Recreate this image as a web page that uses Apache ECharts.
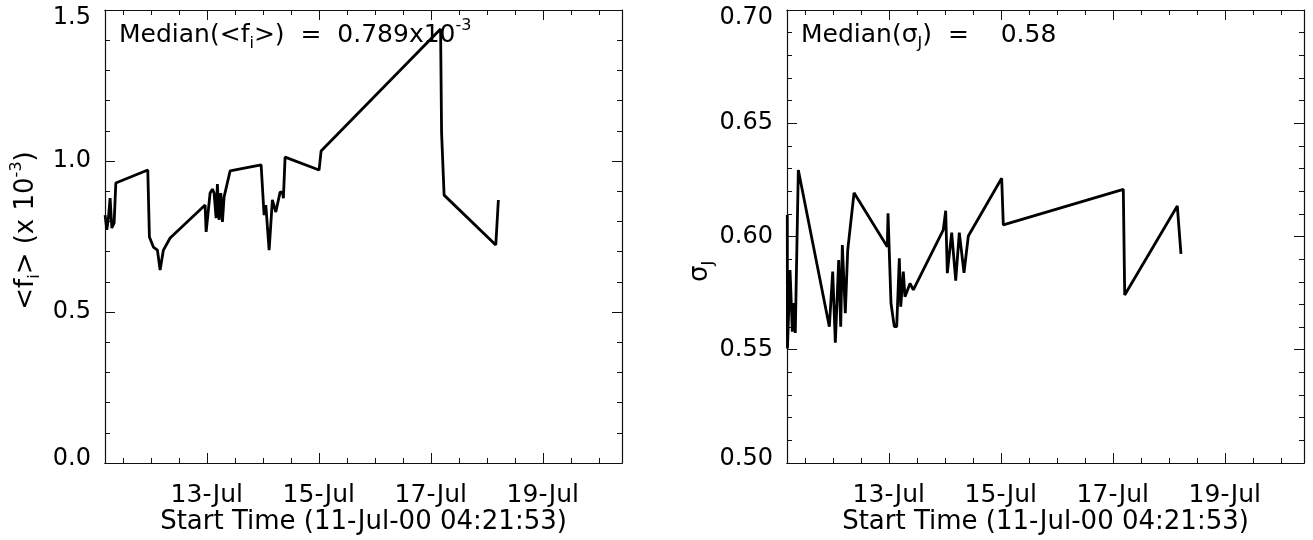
<!DOCTYPE html>
<html>
<head>
<meta charset="utf-8">
<script src="https://cdn.jsdelivr.net/npm/echarts@6/dist/echarts.min.js"></script>
<style>
html,body{margin:0;padding:0;background:#fff;}
#chart{width:1313px;height:540px;}
</style>
</head>
<body>
<div id="chart"></div>
<script>
// ---- data (days since 11-Jul-00 00:00) ----
const leftTimes = [0.184,0.214,0.243,0.273,0.304,0.345,0.375,0.946,0.975,1.046,1.118,1.166,1.225,1.345,1.970,1.988,2.059,2.100,2.130,2.166,2.189,2.220,2.250,2.279,2.309,2.416,2.970,3.023,3.054,3.113,3.171,3.232,3.309,3.350,3.368,3.398,4.005,4.041,6.175,6.193,6.238,7.161,7.207];
const leftValues = [0.821,0.772,0.811,0.877,0.778,0.795,0.927,0.970,0.748,0.715,0.705,0.639,0.705,0.745,0.854,0.765,0.894,0.907,0.894,0.811,0.924,0.805,0.894,0.798,0.881,0.967,0.987,0.821,0.854,0.705,0.871,0.831,0.897,0.897,0.877,1.013,0.970,1.033,1.437,1.093,0.887,0.722,0.871];
const rightTimes = [0.187,0.190,0.236,0.277,0.295,0.330,0.384,0.938,0.998,1.045,1.105,1.141,1.170,1.223,1.266,1.379,1.973,1.986,2.039,2.098,2.141,2.188,2.213,2.259,2.289,2.379,2.438,2.973,3.016,3.045,3.123,3.195,3.259,3.343,3.420,4.016,4.045,6.188,6.213,7.152,7.218];
const rightValues = [0.6095,0.5506,0.5852,0.558,0.5706,0.5574,0.6294,0.5602,0.5845,0.5531,0.5896,0.5602,0.5962,0.5661,0.5940,0.6193,0.5955,0.6102,0.5705,0.5602,0.5602,0.5904,0.5690,0.5845,0.5734,0.5793,0.5764,0.6029,0.6114,0.5838,0.6017,0.5805,0.6017,0.5840,0.6002,0.6257,0.6051,0.6208,0.5742,0.6135,0.5923];
const tickDays = [2,4,6,8];
const tickLabels = ['13-Jul','15-Jul','17-Jul','19-Jul'];
const minorDays = [0.5,1,1.5,2.5,3,3.5,4.5,5,5.5,6.5,7,7.5,8.5,9];
const xTitle = 'Start Time (11-Jul-00 04:21:53)';
const xMin = 15713/86400;   // 11-Jul-00 04:21:53
const xMax = 9.415;

const FONT = 'DejaVu Sans';
const FS = 24;
function rich(fs){
  return {
    a:{fontFamily:FONT,fontSize:fs,fontWeight:'normal',color:'#000',lineHeight:34},
    sub:{fontFamily:FONT,fontSize:16,fontWeight:'normal',color:'#000',verticalAlign:'bottom',lineHeight:16},
    sup:{fontFamily:FONT,fontSize:16,fontWeight:'normal',color:'#000',verticalAlign:'top',lineHeight:16}
  };
}
const lineCol = '#111';

function xAxes(grid){
  const base = {type:'value',gridIndex:grid,min:xMin,max:xMax,splitLine:{show:false},
    axisLine:{show:true,lineStyle:{color:lineCol,width:1.2}}};
  return [
    Object.assign({},base,{position:'bottom',
      axisTick:{show:true,inside:true,length:10,customValues:tickDays,lineStyle:{color:lineCol}},
      axisLabel:{show:true,customValues:tickDays,margin:20,fontFamily:FONT,fontSize:25,color:'#000',
        formatter:v=>{const i=tickDays.findIndex(d=>Math.abs(d-v)<1e-6);return i>=0?tickLabels[i]:'';}},
      name:xTitle,nameLocation:'middle',nameGap:46,nameMoveOverlap:false,
      nameTextStyle:{fontFamily:FONT,fontSize:26,color:'#000'}}),
    Object.assign({},base,{position:'bottom',
      axisTick:{show:true,inside:true,length:5,customValues:minorDays,lineStyle:{color:lineCol}},
      axisLabel:{show:false}}),
    Object.assign({},base,{position:'top',
      axisTick:{show:true,inside:true,length:10,customValues:tickDays,lineStyle:{color:lineCol}},
      axisLabel:{show:false}}),
    Object.assign({},base,{position:'top',
      axisTick:{show:true,inside:true,length:5,customValues:minorDays,lineStyle:{color:lineCol}},
      axisLabel:{show:false}})
  ];
}
function yAxes(grid,min,max,interval,digits,name,gap,namePad){
  const base = {type:'value',gridIndex:grid,min:min,max:max,interval:interval,splitLine:{show:false},
    axisLine:{show:true,lineStyle:{color:lineCol,width:1.2}},
    axisTick:{show:true,inside:true,length:10,lineStyle:{color:lineCol}},
    minorTick:{show:true,splitNumber:5,length:5,lineStyle:{color:lineCol}}};
  const lab = {fontFamily:FONT,fontSize:FS,color:'#000'};
  return [
    Object.assign({},base,{position:'left',
      axisLabel:{show:true,margin:14,fontFamily:FONT,fontSize:FS,color:'#000',
        rich:{t:Object.assign({padding:[15,0,0,0]},lab),b:Object.assign({padding:[0,0,8,0]},lab),n:lab},
        formatter:v=>{
          const s=v.toFixed(digits);
          if(Math.abs(v-max)<1e-9) return '{t|'+s+'}';
          if(Math.abs(v-min)<1e-9) return '{b|'+s+'}';
          return '{n|'+s+'}';
        }},
      name:name,nameLocation:'middle',nameRotate:90,nameGap:gap,nameMoveOverlap:false,
      nameTextStyle:{rich:rich(26),padding:namePad}}),
    Object.assign({},base,{position:'right',axisLabel:{show:false}})
  ];
}

const chart = echarts.init(document.getElementById('chart'),null,{renderer:'canvas'});
const option = {
  animation:false,
  backgroundColor:'#fff',
  title:[
    {text:'{a|Median(<f}{sub|i}{a|>)  =  0.789x10}{sup|-3}',left:119,top:18,padding:0,textStyle:{fontWeight:'normal',rich:rich(25)}},
    {text:'{a|Median(σ}{sub|J}{a|)  =    0.58}',left:801,top:18,padding:0,textStyle:{fontWeight:'normal',rich:rich(25)}}
  ],
  grid:[
    {left:105,top:10,width:517,height:453,show:false,outerBoundsMode:'none',containLabel:false},
    {left:787,top:10,width:517,height:453,show:false,outerBoundsMode:'none',containLabel:false}
  ],
  xAxis:[].concat(xAxes(0),xAxes(1)),
  yAxis:[].concat(
    yAxes(0,0,1.5,0.5,1,'{a|<f}{sub|i}{a|> (x 10}{sup|-3}{a|)}',62,[0,0,0,12]),
    yAxes(1,0.5,0.7,0.05,2,'{a|σ}{sub|J}',70,[0,70,0,0])
  ),
  series:[
    {type:'line',xAxisIndex:0,yAxisIndex:0,showSymbol:false,symbol:'none',
      lineStyle:{color:'#000',width:2.8},data:leftTimes.map((t,i)=>[t,leftValues[i]])},
    {type:'line',xAxisIndex:4,yAxisIndex:2,showSymbol:false,symbol:'none',
      lineStyle:{color:'#000',width:2.8},data:rightTimes.map((t,i)=>[t,rightValues[i]])}
  ]
};
chart.setOption(option);
</script>
</body>
</html>
